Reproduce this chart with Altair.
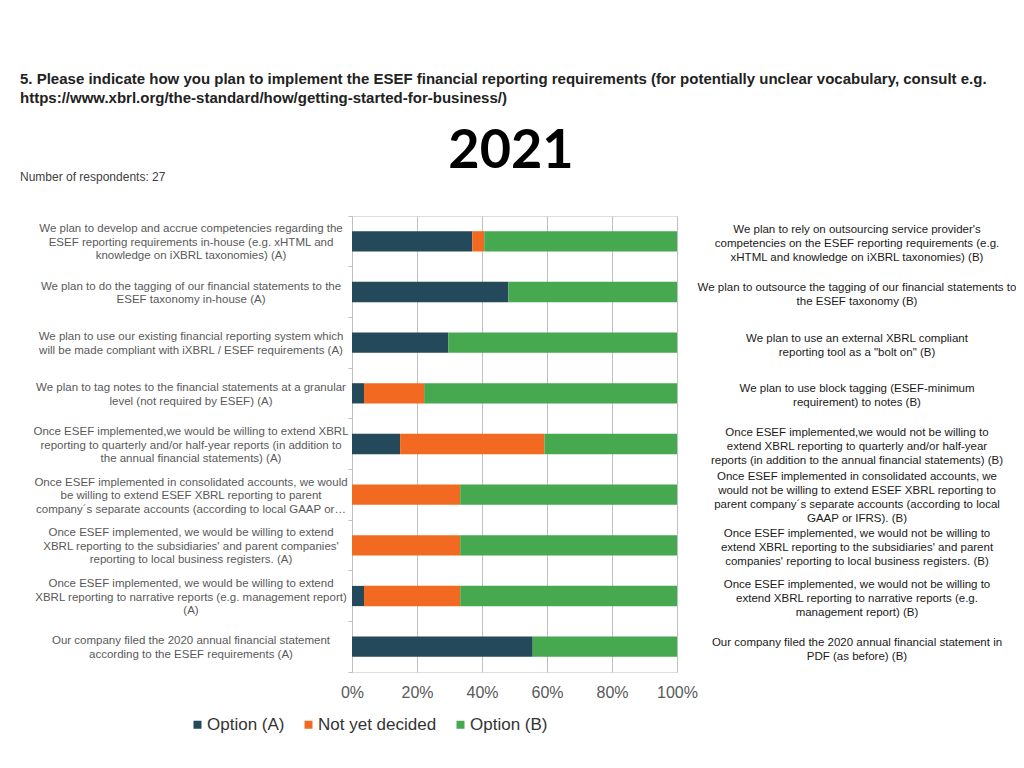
import altair as alt
import pandas as pd

left_labels = [
    "We plan to develop and accrue competencies regarding the\nESEF reporting requirements in-house (e.g. xHTML and\nknowledge on iXBRL taxonomies) (A)",
    "We plan to do the tagging of our financial statements to the\nESEF taxonomy in-house (A)",
    "We plan to use our existing financial reporting system which\nwill be made compliant with iXBRL / ESEF requirements (A)",
    "We plan to tag notes to the financial statements at a granular\nlevel (not required by ESEF) (A)",
    "Once ESEF implemented,we would be willing to extend XBRL\nreporting to quarterly and/or half-year reports (in addition to\nthe annual financial statements) (A)",
    "Once ESEF implemented in consolidated accounts, we would\nbe willing to extend ESEF XBRL reporting to parent\ncompany\u00b4s separate accounts (according to local GAAP or\u2026",
    "Once ESEF implemented, we would be willing to extend\nXBRL reporting to the subsidiaries' and parent companies'\nreporting to local business registers. (A)",
    "Once ESEF implemented, we would be willing to extend\nXBRL reporting to narrative reports (e.g. management report)\n(A)",
    "Our company filed the 2020 annual financial statement\naccording to the ESEF requirements (A)",
]

right_labels = [
    "We plan to rely on outsourcing service provider's\ncompetencies on the ESEF reporting requirements (e.g.\nxHTML and knowledge on iXBRL taxonomies) (B)",
    "We plan to outsource the tagging of our financial statements to\nthe ESEF taxonomy (B)",
    "We plan to use an external XBRL compliant\nreporting tool as a \"bolt on\" (B)",
    "We plan to use block tagging (ESEF-minimum\nrequirement) to notes (B)",
    "Once ESEF implemented,we would not be willing to\nextend XBRL reporting to quarterly and/or half-year\nreports (in addition to the annual financial statements) (B)",
    "Once ESEF implemented in consolidated accounts, we\nwould not be willing to extend ESEF XBRL reporting to\nparent company\u00b4s separate accounts (according to local\nGAAP or IFRS). (B)",
    "Once ESEF implemented, we would not be willing to\nextend XBRL reporting to the subsidiaries' and parent\ncompanies' reporting to local business registers. (B)",
    "Once ESEF implemented, we would not be willing to\nextend XBRL reporting to narrative reports (e.g.\nmanagement report) (B)",
    "Our company filed the 2020 annual financial statement in\nPDF (as before) (B)",
]

series_names = ["Option (A)", "Not yet decided", "Option (B)"]
series_colors = ["#23495A", "#F26A21", "#46A84F"]

option_a = [37.0, 48.1, 29.6, 3.7, 14.8, 0.0, 0.0, 3.7, 55.6]
not_decided = [3.7, 0.0, 0.0, 18.5, 44.4, 33.3, 33.3, 29.6, 0.0]
option_b = [59.3, 51.9, 70.4, 77.8, 40.8, 66.7, 66.7, 66.7, 44.4]

x_ticks = [0, 0.2, 0.4, 0.6, 0.8, 1.0]

title_text = ("5. Please indicate how you plan to implement the ESEF financial reporting requirements (for potentially unclear vocabulary, consult e.g.\n"
              "https://www.xbrl.org/the-standard/how/getting-started-for-business/)")
year_text = "2021"
respondents_text = "Number of respondents: 27"

rows = []
for i, lab in enumerate(left_labels):
    for s, (name, vals) in enumerate(zip(series_names, [option_a, not_decided, option_b])):
        rows.append({"cat": lab, "series": name, "order": s, "value": vals[i]})
bars_df = pd.DataFrame(rows)
labels_df = pd.DataFrame({"cat": left_labels, "right": right_labels})

FONT = "Liberation Sans"
W, H = 325, 456

y_enc = alt.Y("cat:N", sort=left_labels,
              scale=alt.Scale(paddingInner=0, paddingOuter=0),
              axis=alt.Axis(labels=False, title=None, ticks=True, tickSize=4,
                            tickColor="#BFBFBF", domainColor="#BFBFBF",
                            bandPosition=1, tickExtra=True, grid=False))

bars = alt.Chart(bars_df).mark_bar(height=alt.RelativeBandSize(0.4)).encode(
    y=y_enc,
    x=alt.X("value:Q", stack="normalize",
            scale=alt.Scale(domain=[0, 1], nice=False),
            axis=alt.Axis(values=x_ticks, format=".0%", title=None, grid=True,
                          gridColor="#BFBFBF", domain=False, ticks=False,
                          labelFontSize=16, labelColor="#595959", labelFont=FONT,
                          labelPadding=12, labelFlush=False)),
    color=alt.Color("series:N",
                    scale=alt.Scale(domain=series_names, range=series_colors),
                    legend=alt.Legend(orient="none", legendX=-163, legendY=500,
                                      direction="horizontal", title=None,
                                      symbolType="square", symbolSize=64,
                                      symbolStrokeWidth=0, labelFontSize=17,
                                      labelFont=FONT, labelColor="#333333",
                                      labelOffset=1, columnPadding=15, padding=0)),
    order=alt.Order("order:Q"),
)


def label_layers(field, xpos, lh, color, shift):
    layers = []
    for n in (1, 2, 3, 4):
        layers.append(
            alt.Chart(labels_df)
            .transform_calculate(nl=f"length(split(datum['{field}'], '\\n'))")
            .transform_filter(f"datum.nl == {n}")
            .mark_text(align="center", baseline="middle", lineBreak="\n",
                       fontSize=11.5, lineHeight=lh, color=color, font=FONT,
                       dy=-(n - 1) * lh / 2 + shift)
            .encode(y=alt.Y("cat:N", sort=left_labels), x=alt.value(xpos),
                    text=f"{field}:N")
        )
    return layers


left_text = label_layers("cat", -161, 13.5, "#595959", 1.5)
right_text = label_layers("right", 505, 14, "#1a1a1a", 3)

hdr = pd.DataFrame({"title": [title_text], "year": [year_text], "resp": [respondents_text]})

title_mark = alt.Chart(hdr).mark_text(
    align="left", baseline="alphabetic", lineBreak="\n", fontSize=15,
    fontWeight="bold", lineHeight=19, color="#222222", font=FONT
).encode(x=alt.value(-332), y=alt.value(-132), text="title:N")

year_mark = alt.Chart(hdr).mark_text(
    align="center", baseline="alphabetic", fontSize=54, fontWeight="bold",
    color="#000000", font="Lato"
).encode(x=alt.value(159), y=alt.value(-48), text="year:N")

resp_mark = alt.Chart(hdr).mark_text(
    align="left", baseline="middle", fontSize=12, color="#404040", font=FONT
).encode(x=alt.value(-332), y=alt.value(-39), text="resp:N")

chart = alt.layer(bars, *left_text, *right_text, title_mark, year_mark, resp_mark).resolve_scale(
    y="shared"
).properties(
    width=W, height=H,
    autosize=alt.AutoSizeParams(type="none"),
    padding={"left": 344, "top": 208, "right": 339, "bottom": 80},
).configure_view(stroke=None).configure(background="white")

chart.save("out.html", embed_options={"renderer": "svg", "actions": False})
